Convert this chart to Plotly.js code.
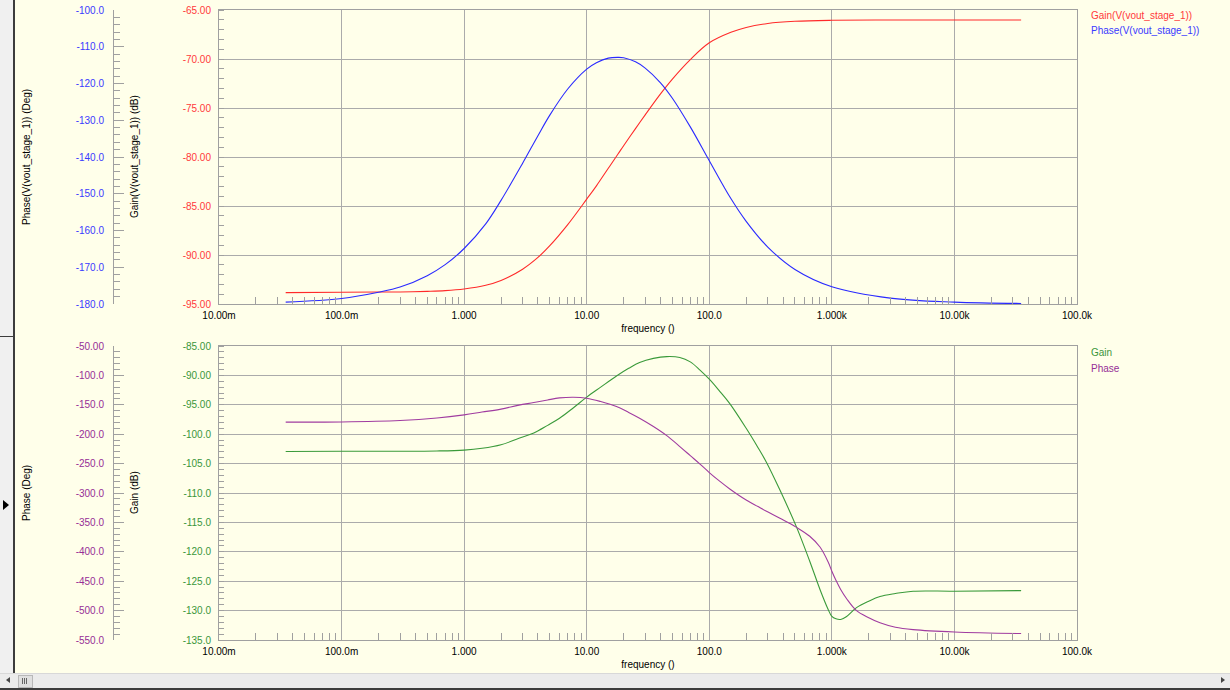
<!DOCTYPE html>
<html>
<head>
<meta charset="utf-8">
<script src="https://cdn.plot.ly/plotly-3.0.1.min.js"></script>
<style>
  html, body { margin:0; padding:0; background:#FFFFEA; overflow:hidden; }
  #chart { position:absolute; left:0; top:0; width:1230px; height:690px; }
  .chrome { position:absolute; z-index:10; }
</style>
</head>
<body>
<div id="chart"></div>
<div class="chrome" style="left:0;top:0;width:13px;height:673px;background:#f0f0f0;"></div>
<div class="chrome" style="left:13px;top:0;width:2px;height:673px;background:#3c3c3c;"></div>
<div class="chrome" style="left:0;top:336px;width:13px;height:1px;background:#3c3c3c;"></div>
<div class="chrome" style="left:3px;top:500px;width:0;height:0;border-top:5px solid transparent;border-bottom:5px solid transparent;border-left:6px solid #000;"></div>
<div class="chrome" style="left:0;top:673px;width:1230px;height:15px;background:#ebebeb;border-top:1px solid #d8d8d8;"></div>
<div class="chrome" style="left:0;top:688px;width:1230px;height:2px;background:#3c3c3c;"></div>
<div class="chrome" style="left:6px;top:677px;width:0;height:0;border-top:3px solid transparent;border-bottom:3px solid transparent;border-right:4px solid #444;"></div>
<div class="chrome" style="left:18px;top:675px;width:13px;height:11px;background:#e0e0e0;border:1px solid #b8b8b8;"></div>
<div class="chrome" style="left:22px;top:678px;width:1px;height:6px;background:#666;"></div>
<div class="chrome" style="left:24px;top:678px;width:1px;height:6px;background:#666;"></div>
<div class="chrome" style="left:26px;top:678px;width:1px;height:6px;background:#666;"></div>
<div class="chrome" style="left:1221px;top:677px;width:0;height:0;border-top:3px solid transparent;border-bottom:3px solid transparent;border-left:4px solid #444;"></div>
<script>
// ---- data ----
const freqTop  = [0.035, 0.1, 0.2, 0.3, 0.5, 0.7, 1, 1.5, 2, 3, 4, 5, 7, 10, 12, 15, 18, 20, 25, 30, 40, 50, 70, 100, 150, 200, 300, 500, 1000, 3000, 10000, 35000];
const gainTop  = [-93.84, -93.8, -93.78, -93.77, -93.71, -93.64, -93.47, -93.09, -92.6, -91.45, -90.25, -89.05, -86.9, -84.3, -82.94, -81.15, -79.7, -78.85, -77.1, -75.7, -73.56, -72.05, -70.06, -68.35, -67.28, -66.78, -66.37, -66.15, -66.05, -66.02, -66.02, -66.02];
const phaseTop = [-179.5, -178.5, -176.8, -175.4, -172.3, -169.3, -164.9, -158.2, -151.8, -141.7, -134.2, -128.6, -121.5, -116.1, -114.35, -113.1, -112.9, -113.0, -114.1, -115.8, -119.8, -124.0, -131.8, -141.0, -151.3, -157.5, -164.5, -170.6, -175.3, -178.4, -179.5, -179.85];

const freqBot  = [0.035, 0.1, 0.3, 0.6, 1, 1.4, 2, 2.8, 3.7, 4.8, 6, 7.8, 10, 13, 17.5, 22, 27, 35, 45, 57.5, 70, 84, 100, 120, 147, 200, 250, 293, 377, 515, 660, 800, 933, 1000, 1080, 1180, 1320, 1590, 2000, 2470, 3300, 4600, 10000, 35000];
const gainBot  = [-102.95, -102.9, -102.9, -102.85, -102.7, -102.4, -101.8, -100.7, -99.8, -98.5, -97.3, -95.5, -93.7, -92.0, -90.1, -88.8, -87.8, -87.1, -86.8, -86.95, -87.7, -89.1, -90.65, -92.55, -94.8, -99.0, -102.3, -104.8, -109.5, -115.8, -121.6, -126.4, -129.8, -131.0, -131.4, -131.5, -131.0, -129.5, -128.4, -127.6, -127.1, -126.7, -126.7, -126.6];
const phaseBot = [-179.5, -179.2, -176.8, -172.5, -167.1, -162.3, -157.3, -150.5, -146.2, -141.7, -138.3, -137.1, -138.8, -144.5, -153.0, -163.0, -172.8, -187.0, -202.5, -221, -236.5, -250.8, -265.2, -279.0, -293.1, -311.9, -323.1, -331.0, -343.0, -358.5, -373.6, -391.9, -417.4, -433.0, -448.5, -464.1, -479.8, -500.0, -512, -520.7, -528.3, -532.3, -536.3, -539];

// ---- tick labels ----
const xTickVals = [0.01, 0.1, 1, 10, 100, 1000, 10000, 100000];
const xTickText = ['10.00m', '100.0m', '1.000', '10.00', '100.0', '1.000k', '10.00k', '100.0k'];
const gainTopTickVals = [-95, -90, -85, -80, -75, -70, -65];
const gainTopTickText = ['-95.00', '-90.00', '-85.00', '-80.00', '-75.00', '-70.00', '-65.00'];
const phaseTopTickVals = [-180, -170, -160, -150, -140, -130, -120, -110, -100];
const phaseTopTickText = ['-180.0', '-170.0', '-160.0', '-150.0', '-140.0', '-130.0', '-120.0', '-110.0', '-100.0'];
const gainBotTickVals = [-135, -130, -125, -120, -115, -110, -105, -100, -95, -90, -85];
const gainBotTickText = ['-135.0', '-130.0', '-125.0', '-120.0', '-115.0', '-110.0', '-105.0', '-100.0', '-95.00', '-90.00', '-85.00'];
const phaseBotTickVals = [-550, -500, -450, -400, -350, -300, -250, -200, -150, -100, -50];
const phaseBotTickText = ['-550.0', '-500.0', '-450.0', '-400.0', '-350.0', '-300.0', '-250.0', '-200.0', '-150.0', '-100.0', '-50.00'];

// ---- styling ----
const FONT = 'Liberation Sans, Arial, sans-serif';
const RED = '#ff2a2a', BLUE = '#2a2aff', GREEN = '#3a9a3a', PURPLE = '#a03ca0';
const RED_T = '#ff3a3a', BLUE_T = '#3a3aff', GREEN_T = '#3a963a', PURPLE_T = '#962e96';
const GRID = '#ababab', AXL = '#a0a0a0';
const W = 1077; // paper width in px (margin.l = 0)
const H = 630;  // paper height in px
const px2x = p => p / W;
const px2y = p => (640 - p) / H;

const minorX = [];
for (let d = -2; d <= 4; d++) for (let k = 2; k <= 9; k++) minorX.push(k * Math.pow(10, d));

const xDom = [219 / W, 1];
const topDom = [px2y(304), 1];
const botDom = [0, px2y(346)];
const freeX = px2x(113);

function xAxis(anchor) {
  return {
    type: 'log', range: [-2, 5], domain: xDom, anchor: anchor,
    tickmode: 'array', tickvals: xTickVals, ticktext: xTickText,
    ticks: '', showgrid: true, gridcolor: GRID, gridwidth: 1,
    showline: true, linecolor: AXL, linewidth: 1, mirror: true, zeroline: false,
    tickfont: { family: FONT, size: 10, color: '#000' }, ticklabelstandoff: 2,
    minor: { tickmode: 'array', tickvals: minorX, ticks: 'inside', ticklen: 7, tickcolor: AXL, tickwidth: 1, showgrid: false },
    title: { text: 'frequency ()', font: { family: FONT, size: 10, color: '#000' }, standoff: 4 },
    automargin: false
  };
}
function gainAxis(anchor, dom, range, vals, text, color) {
  return {
    domain: dom, anchor: anchor, range: range,
    tickmode: 'array', tickvals: vals, ticktext: text, ticks: '',
    showgrid: true, gridcolor: GRID, gridwidth: 1,
    showline: true, linecolor: AXL, linewidth: 1, mirror: true, zeroline: false,
    tickfont: { family: FONT, size: 10, color: color }, ticklabelstandoff: 5,
    minor: { tickmode: 'linear', tick0: range[0], dtick: 1, ticks: 'inside', ticklen: 5, tickcolor: AXL, tickwidth: 1, showgrid: false },
    automargin: false
  };
}
function phaseAxis(over, range, vals, text, color, mdt) {
  return {
    overlaying: over, anchor: 'free', position: freeX, side: 'left', range: range,
    tickmode: 'array', tickvals: vals, ticktext: text,
    ticks: 'inside', ticklen: 10, tickcolor: AXL, tickwidth: 1,
    showgrid: false, showline: true, linecolor: AXL, linewidth: 1, zeroline: false,
    tickfont: { family: FONT, size: 10, color: color }, ticklabelstandoff: 7,
    minor: { tickmode: 'linear', tick0: range[0], dtick: mdt, ticks: 'inside', ticklen: 6, tickcolor: AXL, tickwidth: 1, showgrid: false },
    automargin: false
  };
}

const lineOpts = (c) => ({ color: c, width: 1.1, shape: 'spline', smoothing: 1 });
const traces = [
  { x: freqTop, y: gainTop, xaxis: 'x', yaxis: 'y', mode: 'lines', name: 'Gain(V(vout_stage_1))', line: lineOpts(RED) },
  { x: freqTop, y: phaseTop, xaxis: 'x', yaxis: 'y2', mode: 'lines', name: 'Phase(V(vout_stage_1))', line: lineOpts(BLUE) },
  { x: freqBot, y: gainBot, xaxis: 'x2', yaxis: 'y3', mode: 'lines', name: 'Gain', line: lineOpts(GREEN) },
  { x: freqBot, y: phaseBot, xaxis: 'x2', yaxis: 'y4', mode: 'lines', name: 'Phase', line: lineOpts(PURPLE) }
];

function yTitle(text, xpx, ypx) {
  return { text: text, xref: 'paper', yref: 'paper', x: px2x(xpx), y: px2y(ypx), textangle: -90,
           showarrow: false, xanchor: 'center', yanchor: 'middle', font: { family: FONT, size: 10, color: '#000' } };
}
function legendItem(text, ypx, color) {
  return { text: text, xref: 'paper', yref: 'paper', x: px2x(1089), y: px2y(ypx), showarrow: false,
           xanchor: 'left', yanchor: 'middle', font: { family: FONT, size: 10, color: color } };
}

const layout = {
  width: 1230, height: 690,
  margin: { l: 0, r: 153, t: 10, b: 50, pad: 0 },
  paper_bgcolor: '#FFFFEA', plot_bgcolor: '#FFFFEA',
  showlegend: false,
  font: { family: FONT, size: 10 },
  xaxis: xAxis('y'),
  xaxis2: xAxis('y3'),
  yaxis: gainAxis('x', topDom, [-95, -65], gainTopTickVals, gainTopTickText, RED_T),
  yaxis2: phaseAxis('y', [-180, -100], phaseTopTickVals, phaseTopTickText, BLUE_T, 2),
  yaxis3: gainAxis('x2', botDom, [-135, -85], gainBotTickVals, gainBotTickText, GREEN_T),
  yaxis4: phaseAxis('y3', [-550, -50], phaseBotTickVals, phaseBotTickText, PURPLE_T, 10),
  annotations: [
    yTitle('Phase(V(vout_stage_1)) (Deg)', 27, 157),
    yTitle('Gain(V(vout_stage_1)) (dB)', 135, 157),
    yTitle('Phase (Deg)', 27, 493),
    yTitle('Gain (dB)', 135, 493),
    legendItem('Gain(V(vout_stage_1))', 16, RED_T),
    legendItem('Phase(V(vout_stage_1))', 31, BLUE_T),
    legendItem('Gain', 352, GREEN_T),
    legendItem('Phase', 368, PURPLE_T)
  ]
};

Plotly.newPlot('chart', traces, layout, { staticPlot: true, displayModeBar: false });
</script>
</body>
</html>
